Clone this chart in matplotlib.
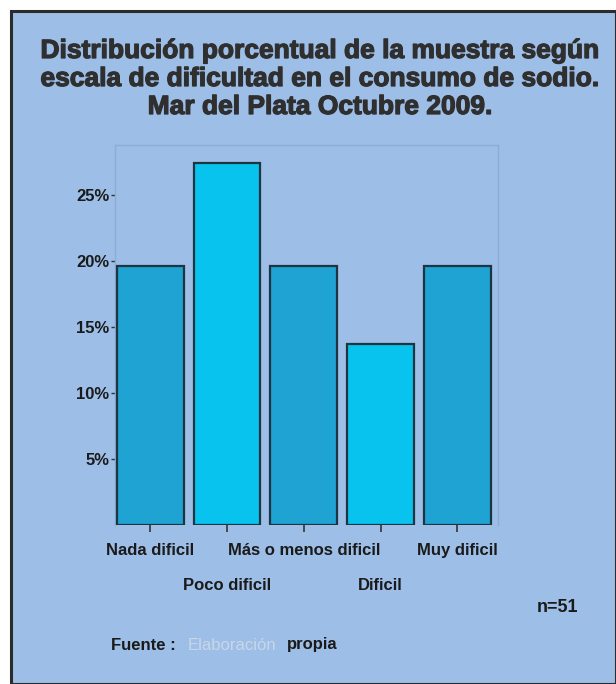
#!/usr/bin/env python3
"""
Distribucion porcentual - escala de dificultad en el consumo de sodio.
"""

import numpy as np
import matplotlib.pyplot as plt
import matplotlib.patheffects as pe
from matplotlib.patches import Rectangle

plt.rcParams['font.family'] = ['Liberation Sans', 'DejaVu Sans']

categorias = ["Nada dificil", "Poco dificil", "Más o menos dificil", "Dificil", "Muy dificil"]
conteos = [10, 14, 10, 7, 10]
n_total = 51
porcentajes = [100.0 * c / n_total for c in conteos]
yticks = [5, 10, 15, 20, 25]
ytick_labels = ["5%", "10%", "15%", "20%", "25%"]
titulo = ["Distribución porcentual de la muestra según",
          "escala de dificultad en el consumo de sodio.",
          "Mar del Plata Octubre 2009."]

bg = "#9dbee6"
dark_bar = "#1fa3d3"
light_bar = "#07c3ee"
edge = "#1e3440"
text_col = "#1a1a1a"

fig = plt.figure(figsize=(6.16, 6.84), dpi=100)
fig.patch.set_facecolor("white")
fig.patches.append(Rectangle((11 / 616, 0.0), 1 - 11 / 616, 1 - 11 / 684,
                             transform=fig.transFigure, facecolor=bg,
                             edgecolor="#2b2b2b", linewidth=2.2, zorder=-5))

# title, one line at a time (a thin stroke makes it look heavier)
for i, linea in enumerate(titulo):
    fig.text(320 / 616, 1 - (51 + 28 * i) / 684, linea, ha="center", va="center",
             fontsize=19, fontweight="bold", color="#2f2f2f",
             path_effects=[pe.withStroke(linewidth=0.9, foreground="#2f2f2f")])

ax = fig.add_axes([115 / 616, 1 - 525 / 684, 383 / 616, 380 / 684])
ax.set_facecolor(bg)

x = np.arange(len(categorias))
colores = [dark_bar, light_bar, dark_bar, light_bar, dark_bar]
ax.bar(x, porcentajes, width=0.87, color=colores, edgecolor=edge, linewidth=1.6, zorder=3)

ax.set_xlim(-0.46, 4.53)
ax.set_ylim(0, 28.8)

ax.set_yticks(yticks)
ax.set_yticklabels(ytick_labels, fontsize=12, fontweight="bold", color=text_col)
ax.tick_params(axis="y", length=3, width=1, color="#333333", pad=1)

ax.set_xticks(x)
ax.set_xticklabels(categorias, fontsize=12, fontweight="bold", color=text_col)
ax.tick_params(axis="x", length=5, width=1.2, color="#333333", pad=8)
for i, tick in enumerate(ax.xaxis.get_major_ticks()):
    if i % 2 == 1:
        tick.set_pad(33)

for side in ["left", "top", "right"]:
    ax.spines[side].set_color("#8aaed6")
    ax.spines[side].set_linewidth(1)
ax.spines["bottom"].set_visible(False)

fig.text(578 / 616, 1 - 608 / 684, "n=51", ha="right", va="center",
         fontsize=13, fontweight="bold", color=text_col)

fig.text(111 / 616, 1 - 645 / 684, "Fuente :", ha="left", va="center",
         fontsize=12, fontweight="bold", color=text_col)
fig.text(188 / 616, 1 - 645 / 684, "Elaboración", ha="left", va="center",
         fontsize=12, color="#c9d6e8")
fig.text(287 / 616, 1 - 645 / 684, "propia", ha="left", va="center",
         fontsize=12, fontweight="bold", color=text_col)

plt.savefig("out.png", dpi=100, facecolor=fig.get_facecolor())
